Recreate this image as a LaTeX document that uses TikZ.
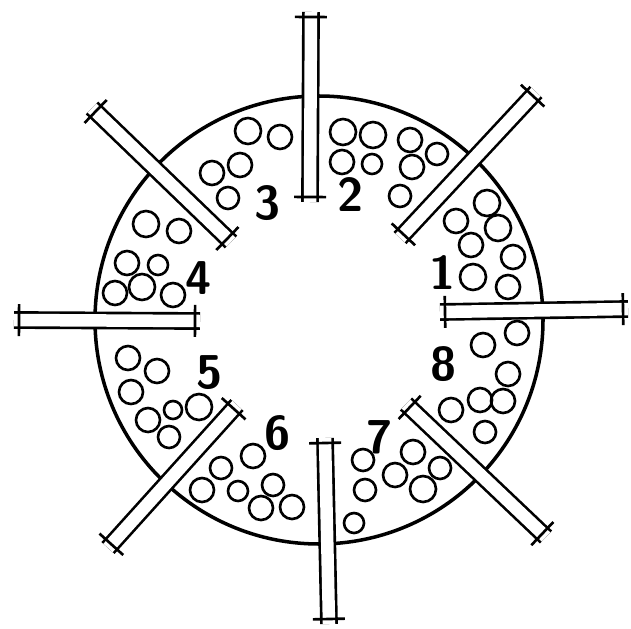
\documentclass[tikz,border=0pt]{standalone}
\usetikzlibrary{calc}

\begin{document}
\begin{tikzpicture}[
  x=0.02cm, y=-0.02cm,
  rim/.style={draw, line width=2pt},
  pebble/.style={draw, line width=1.5pt},
  rod/.style={double=white, double distance=0.25cm, line width=1.5pt},
  bar/.style={line width=1.5pt},
  num/.style={font=\sffamily\bfseries\fontsize{27}{27}\selectfont, inner sep=0pt}
]
  \useasboundingbox (0,0) rectangle (631,628);

  % outer rim
  \coordinate (centre) at (319,320);
  \draw[rim] (centre) circle[radius=224];

  % pebbles
  \foreach \x/\y/\r in {248/131/13, 280/137/12, 212/173/12, 240/165/12, 228/198/11,
      343/132/13, 373/135/13, 410/140/12, 437/154/11, 342/162/12, 372/164/10, 412/167/12, 400/196/11,
      487/203/13, 456/221/12, 498/228/13, 471/245/12, 513/257/12, 473/277/13, 508/287/12,
      517/333/12, 483/345/12, 508/374/12, 451/410/12, 480/400/12, 503/401/12, 485/432/11,
      363/460/11, 413/452/12, 395/475/12, 440/468/11, 365/490/11, 423/489/13, 354/523/10,
      253/456/12, 221/468/11, 202/490/12, 238/491/10, 273/485/11, 261/508/12, 292/507/12,
      128/358/12, 157/371/12, 131/392/12, 173/410/9, 199/407/13, 148/420/12, 169/437/11,
      146/224/13, 179/231/12, 127/263/12, 158/265/10, 115/293/12, 142/287/13, 173/295/12}
    \draw[pebble] (\x,\y) circle[radius=\r];

  % rod ends
  \coordinate (top-in) at (310,202);    \coordinate (top-out) at (311,12);
  \coordinate (ur-in) at (400,238);     \coordinate (ur-out) at (536,92);
  \coordinate (right-in) at (440,312);  \coordinate (right-out) at (628,309);
  \coordinate (lr-in) at (406,404);     \coordinate (lr-out) at (546,537);
  \coordinate (bottom-in) at (325,438); \coordinate (bottom-out) at (329,624);
  \coordinate (ll-in) at (237,405);     \coordinate (ll-out) at (108,548);
  \coordinate (left-in) at (200,321);   \coordinate (left-out) at (14,320);
  \coordinate (ul-in) at (231,242);     \coordinate (ul-out) at (92,108);

  % rods
  \foreach \a/\b in {top-in/top-out, ur-in/ur-out, right-in/right-out, lr-in/lr-out,
      bottom-in/bottom-out, ll-in/ll-out, left-in/left-out, ul-in/ul-out} {
    \draw[rod] (\a) -- (\b);
    \draw[bar] ($($(\a)!0.1cm!(\b)$)!0.32cm!90:(\b)$) -- ($($(\a)!0.1cm!(\b)$)!0.32cm!-90:(\b)$);
    \draw[bar] ($($(\b)!0.1cm!(\a)$)!0.32cm!90:(\a)$) -- ($($(\b)!0.1cm!(\a)$)!0.32cm!-90:(\a)$);
  }

  % numbers
  \node[num] (n1) at (443,273) {1};
  \node[num] (n2) at (351,195) {2};
  \node[num] (n3) at (268,203) {3};
  \node[num] (n4) at (199,278) {4};
  \node[num] (n5) at (210,373) {5};
  \node[num] (n6) at (278,433) {6};
  \node[num] (n7) at (380,437) {7};
  \node[num] (n8) at (444,364) {8};
\end{tikzpicture}
\end{document}
